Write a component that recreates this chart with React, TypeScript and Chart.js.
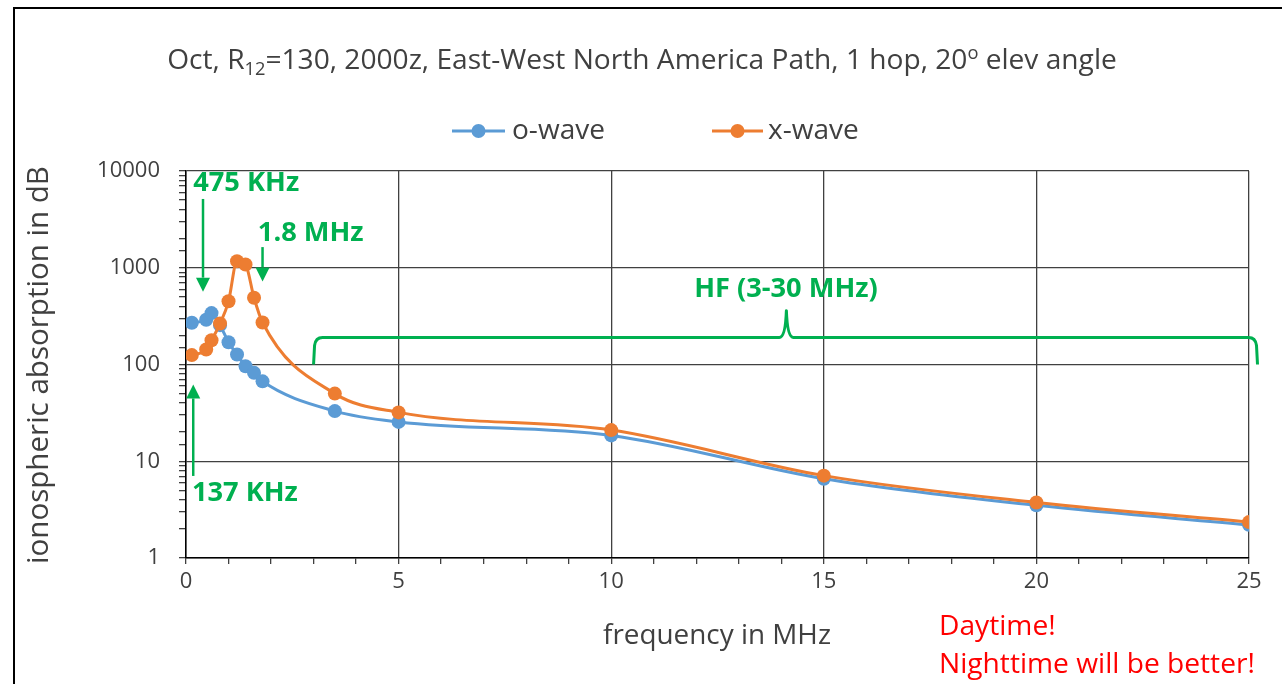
import React, { useEffect, useRef } from "react";
import { Chart, registerables } from "chart.js";

Chart.register(...registerables);

// ---------- data ----------
const FREQ_MHZ = [0.137, 0.475, 0.6, 0.8, 1.0, 1.2, 1.4, 1.6, 1.8, 3.5, 5, 10, 15, 20, 25];
const O_WAVE_DB = [270, 290, 340, 255, 170, 127, 96, 82, 67, 33, 25.5, 18.5, 6.6, 3.5, 2.2];
const X_WAVE_DB = [125, 143, 178, 265, 450, 1170, 1080, 490, 272, 50, 32, 21, 7.1, 3.75, 2.35];
const SERIES_NAMES = ["o-wave", "x-wave"];
const Y_TICKS = [1, 10, 100, 1000, 10000];
const X_TICK_LABELS = [0, 5, 10, 15, 20, 25];

const BLUE = "#5B9BD5";
const ORANGE = "#ED7D31";
const GREEN = "#00B050";
const FONT = "'Open Sans', 'Noto Sans', sans-serif";
const TEXT = "#404040";

function fitSize(ctx: CanvasRenderingContext2D, text: string, weight: string, target: number) {
  ctx.font = `${weight} 20px ${FONT}`;
  const w = ctx.measureText(text).width;
  return (20 * target) / w;
}

function drawText(ctx: CanvasRenderingContext2D, text: string, x: number, y: number, target: number, opts: { weight?: string; color?: string; align?: CanvasTextAlign; size?: number } = {}) {
  const weight = opts.weight || "normal";
  const size = opts.size || fitSize(ctx, text, weight, target);
  ctx.font = `${weight} ${size.toFixed(2)}px ${FONT}`;
  ctx.fillStyle = opts.color || TEXT;
  ctx.textAlign = opts.align || "left";
  ctx.textBaseline = "middle";
  ctx.fillText(text, x, y);
}

function arrow(ctx: CanvasRenderingContext2D, x: number, y0: number, y1: number) {
  const dir = y1 > y0 ? 1 : -1;
  const head = 14;
  ctx.strokeStyle = GREEN;
  ctx.fillStyle = GREEN;
  ctx.lineWidth = 2.5;
  ctx.beginPath();
  ctx.moveTo(x, y0);
  ctx.lineTo(x, y1 - dir * head);
  ctx.stroke();
  ctx.beginPath();
  ctx.moveTo(x - 7, y1 - dir * head);
  ctx.lineTo(x + 7, y1 - dir * head);
  ctx.lineTo(x, y1);
  ctx.closePath();
  ctx.fill();
}

const decorPlugin = {
  id: "decor",
  afterDraw(chart: any) {
    const ctx: CanvasRenderingContext2D = chart.ctx;
    const xs = chart.scales.x;
    const ys = chart.scales.y;
    const X = (v: number) => xs.getPixelForValue(v);
    const Y = (v: number) => ys.getPixelForValue(v);
    ctx.save();

    // outer frame
    ctx.strokeStyle = "#000";
    ctx.lineWidth = 2;
    ctx.beginPath();
    ctx.moveTo(14, 700);
    ctx.lineTo(14, 8);
    ctx.lineTo(1300, 8);
    ctx.stroke();

    // title with subscript / superscript
    const segs = [
      { t: "Oct, R", k: "n" },
      { t: "12", k: "sub" },
      { t: "=130, 2000z, East-West North America Path, 1 hop, 20", k: "n" },
      { t: "o", k: "sup" },
      { t: " elev angle", k: "n" },
    ];
    const base = 22;
    const fontFor = (k: string, s: number) => `normal ${k === "n" ? s : s * 0.65}px ${FONT}`;
    const widthAt = (s: number) =>
      segs.reduce((acc, g) => {
        ctx.font = fontFor(g.k, s);
        return acc + ctx.measureText(g.t).width;
      }, 0);
    const size = (base * 950) / widthAt(base);
    let tx = 642 - widthAt(size) / 2;
    ctx.fillStyle = TEXT;
    ctx.textAlign = "left";
    ctx.textBaseline = "alphabetic";
    for (const g of segs) {
      ctx.font = fontFor(g.k, size);
      const dy = g.k === "sub" ? 6 : g.k === "sup" ? -10 : 0;
      ctx.fillText(g.t, tx, 69 + dy);
      tx += ctx.measureText(g.t).width;
    }

    // legend
    const legend = [
      { name: SERIES_NAMES[0], color: BLUE, x0: 452, x1: 505, tx: 512 },
      { name: SERIES_NAMES[1], color: ORANGE, x0: 712, x1: 763, tx: 768 },
    ];
    const legSize = fitSize(ctx, SERIES_NAMES[0], "normal", 93);
    for (const l of legend) {
      ctx.strokeStyle = l.color;
      ctx.lineWidth = 3;
      ctx.beginPath();
      ctx.moveTo(l.x0, 131);
      ctx.lineTo(l.x1, 131);
      ctx.stroke();
      ctx.fillStyle = l.color;
      ctx.beginPath();
      ctx.arc((l.x0 + l.x1) / 2, 131, 7, 0, Math.PI * 2);
      ctx.fill();
      drawText(ctx, l.name, l.tx, 131, 93, { size: legSize });
    }

    // axis titles
    drawText(ctx, "frequency in MHz", 717, 636, 228, { align: "center" });
    ctx.save();
    ctx.translate(40, 365);
    ctx.rotate(-Math.PI / 2);
    drawText(ctx, "ionospheric absorption in dB", 0, 0, 398, { align: "center" });
    ctx.restore();

    // red notes
    const redSize = fitSize(ctx, "Nighttime will be better!", "normal", 316);
    drawText(ctx, "Daytime!", 939, 627, 0, { color: "#FF0000", size: redSize });
    drawText(ctx, "Nighttime will be better!", 939, 665, 0, { color: "#FF0000", size: redSize });

    // green annotations
    const gSize = fitSize(ctx, "475 KHz", "bold", 106);
    drawText(ctx, "475 KHz", X(0.17), Y(7520), 0, { weight: "bold", color: GREEN, size: gSize });
    arrow(ctx, X(0.4), Y(5140), Y(566));
    drawText(ctx, "1.8 MHz", X(1.69), Y(2297), 0, { weight: "bold", color: GREEN, size: gSize });
    arrow(ctx, X(1.8), Y(1635), Y(722));
    drawText(ctx, "137 KHz", X(0.14), Y(4.68), 0, { weight: "bold", color: GREEN, size: gSize });
    arrow(ctx, X(0.17), Y(7.05), Y(62.2));
    drawText(ctx, "HF (3-30 MHz)", X(14.11), Y(593), 0, { weight: "bold", color: GREEN, align: "center", size: gSize });

    // brace
    const bx0 = X(3.0), bx1 = X(25.2), pk = X(14.12);
    const yb = Y(100), yBar = Y(190), yPk = Y(360);
    ctx.strokeStyle = GREEN;
    ctx.lineWidth = 3;
    ctx.lineJoin = "round";
    ctx.beginPath();
    ctx.moveTo(bx0, yb);
    ctx.lineTo(bx0 + 1, yBar + 8);
    ctx.quadraticCurveTo(bx0 + 2, yBar, bx0 + 9, yBar);
    ctx.lineTo(pk - 7, yBar);
    ctx.quadraticCurveTo(pk - 1, yBar, pk, yPk);
    ctx.quadraticCurveTo(pk + 1, yBar, pk + 7, yBar);
    ctx.lineTo(bx1 - 9, yBar);
    ctx.quadraticCurveTo(bx1 - 2, yBar, bx1 - 1, yBar + 8);
    ctx.lineTo(bx1, yb);
    ctx.stroke();

    ctx.restore();
  },
};

export default function App() {
  const ref = useRef<HTMLCanvasElement | null>(null);
  useEffect(() => {
    if (!ref.current) return;
    const isPow10 = (v: number) => Y_TICKS.some((t) => Math.abs(t - v) < 1e-9);
    const chart = new Chart(ref.current, {
      type: "line",
      data: {
        datasets: [
          {
            label: SERIES_NAMES[0],
            data: FREQ_MHZ.map((f, i) => ({ x: f, y: O_WAVE_DB[i] })),
            borderColor: BLUE,
            backgroundColor: BLUE,
            borderWidth: 3,
            pointRadius: 7,
            pointBorderWidth: 0,
            cubicInterpolationMode: "monotone",
            order: 1,
          },
          {
            label: SERIES_NAMES[1],
            data: FREQ_MHZ.map((f, i) => ({ x: f, y: X_WAVE_DB[i] })),
            borderColor: ORANGE,
            backgroundColor: ORANGE,
            borderWidth: 3,
            pointRadius: 7,
            pointBorderWidth: 0,
            cubicInterpolationMode: "monotone",
            order: 0,
          },
        ],
      },
      options: {
        responsive: false,
        animation: false,
        layout: { padding: { left: 0, top: 171, right: 33, bottom: 0 } },
        plugins: { legend: { display: false }, title: { display: false }, tooltip: { enabled: false } },
        scales: {
          x: {
            type: "linear",
            min: 0,
            max: 25,
            afterFit: (s: any) => { s.height = 126; },
            afterBuildTicks: (s: any) => {
              const t = [];
              for (let v = 0; v <= 25; v++) t.push({ value: v });
              s.ticks = t;
            },
            ticks: {
              autoSkip: false,
              maxRotation: 0,
              padding: 5,
              color: TEXT,
              font: { family: FONT, size: 22 },
              callback: (v: any) => (X_TICK_LABELS.includes(Number(v)) ? String(v) : ""),
            },
            grid: {
              color: (c: any) => (c.tick && X_TICK_LABELS.includes(c.tick.value) ? "#404040" : "rgba(0,0,0,0)"),
              tickColor: "#404040",
              lineWidth: 1.3,
              tickLength: 6,
            },
            border: { display: true, color: "#000", width: 1.5 },
          },
          y: {
            type: "logarithmic",
            min: 1,
            max: 10000,
            afterFit: (s: any) => { s.width = 186; },
            ticks: {
              autoSkip: false,
              padding: 19,
              color: TEXT,
              font: { family: FONT, size: 22 },
              callback: (v: any) => (isPow10(Number(v)) ? String(v) : ""),
            },
            grid: {
              color: (c: any) => (c.tick && isPow10(c.tick.value) ? "#404040" : "rgba(0,0,0,0)"),
              tickColor: "#404040",
              lineWidth: 1.3,
              tickLength: 7,
            },
            border: { display: true, color: "#000", width: 1.5 },
          },
        },
      },
      plugins: [decorPlugin],
    } as any);
    return () => chart.destroy();
  }, []);
  return (
    <div style={{ position: "fixed", left: 0, top: 0, width: 1282, height: 684, background: "#fff" }}>
      <canvas ref={ref} width={1282} height={684} style={{ width: 1282, height: 684 }} />
    </div>
  );
}
